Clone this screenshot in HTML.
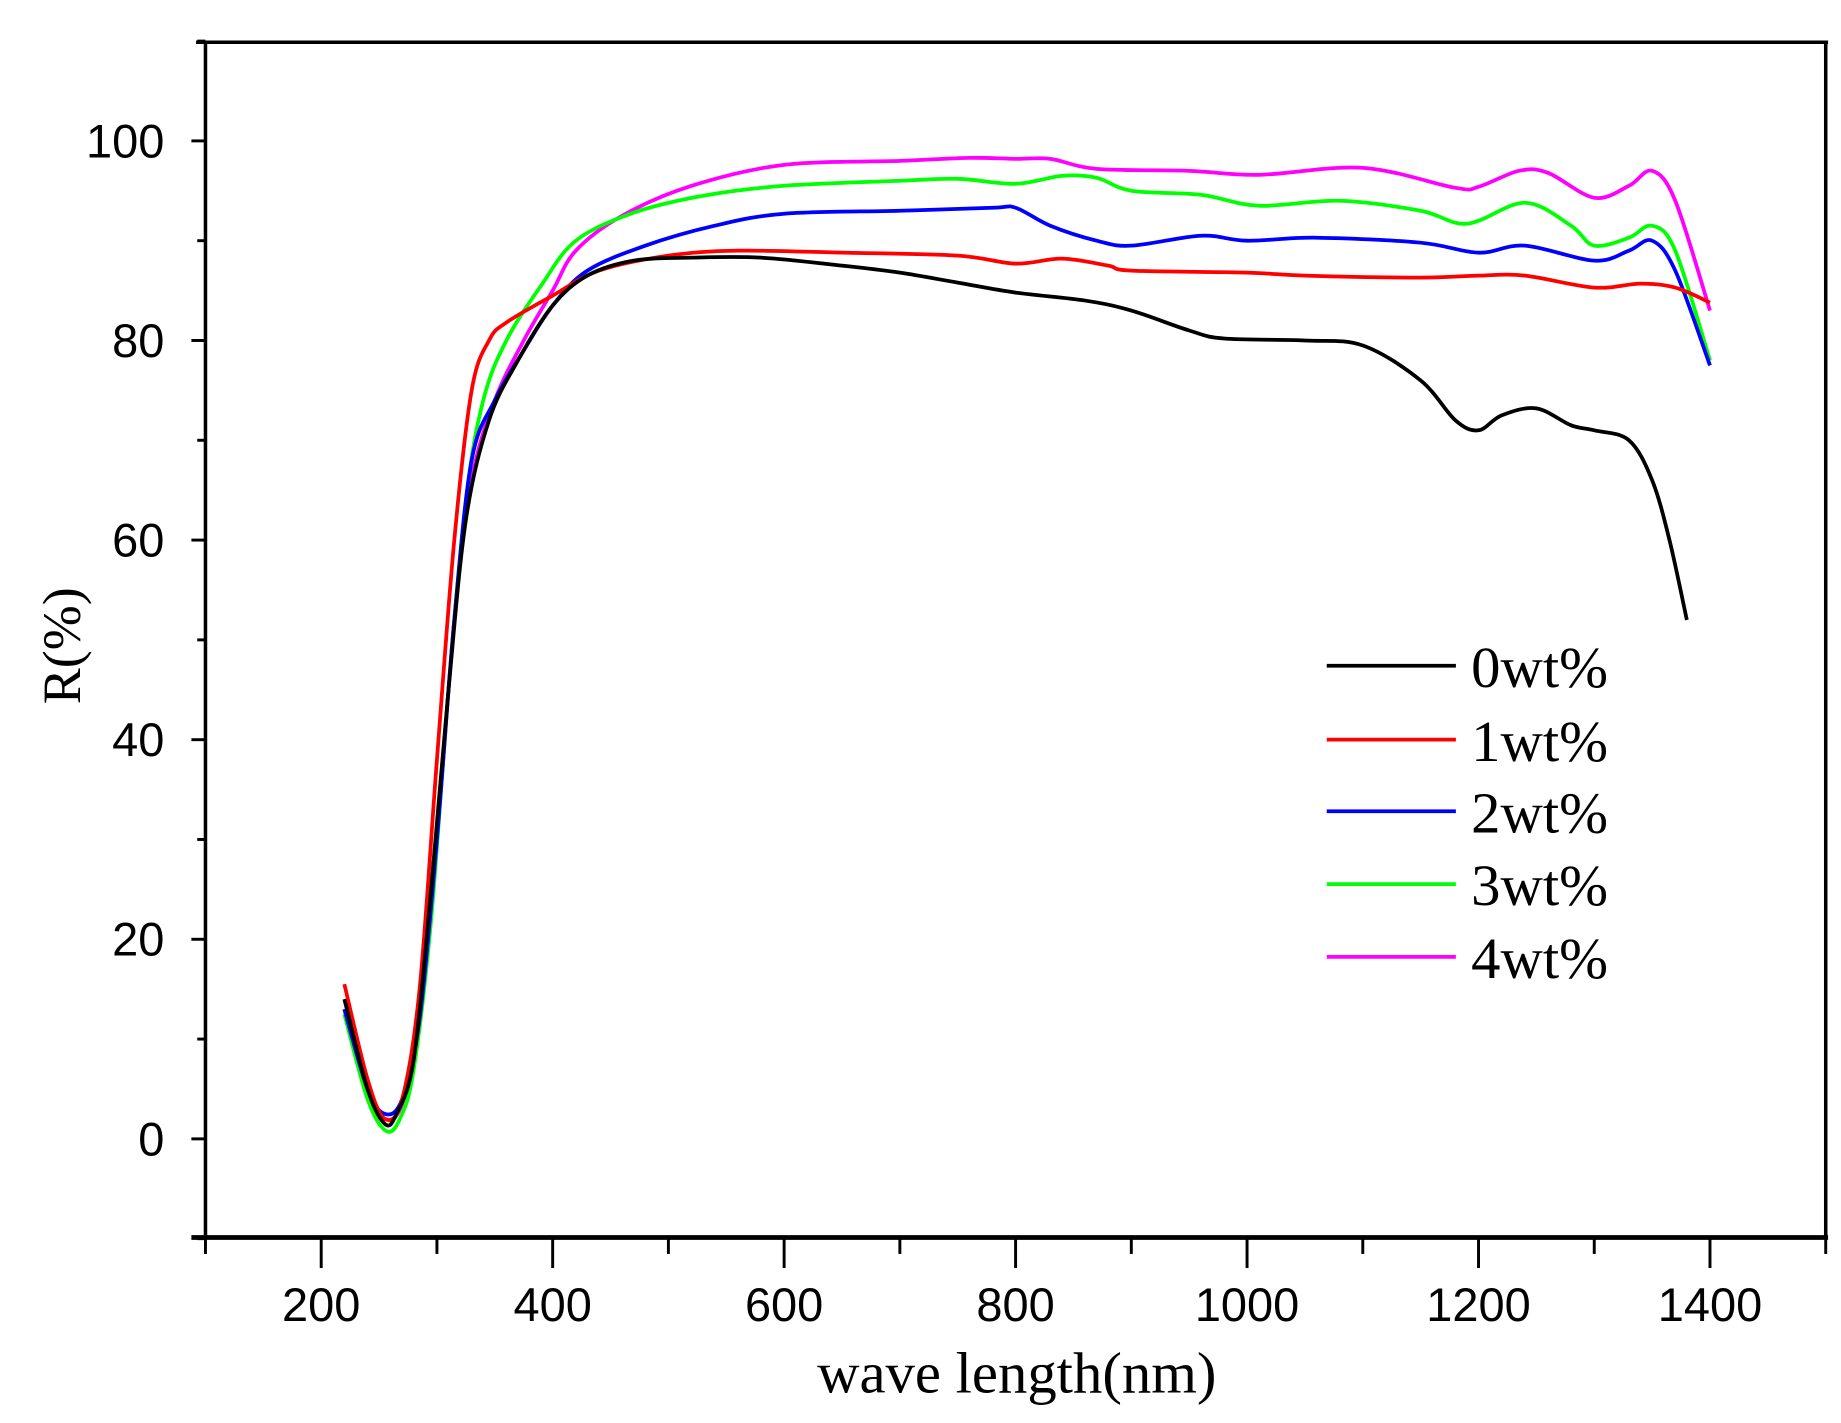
<!DOCTYPE html>
<html><head><style>html,body{margin:0;padding:0;background:#fff;}svg{display:block}</style></head>
<body>
<svg id="s" width="1841" height="1423" viewBox="0 0 1568 1212" preserveAspectRatio="none" xmlns="http://www.w3.org/2000/svg">
<rect width="1568" height="1212" fill="#fff"/>
<g stroke="#000" stroke-width="3" fill="none">
<line x1="167" y1="36" x2="1557" y2="36"/>
<line x1="175" y1="36" x2="175" y2="1055"/>
<line x1="1555" y1="36" x2="1555" y2="1055"/>
<line x1="163" y1="1054" x2="1557" y2="1054" stroke-width="4"/>
</g>
<g id="ticks" stroke="#000" stroke-width="2.5"></g>
<g font-family="Liberation Sans, sans-serif" font-size="40" fill="#000" text-anchor="end" id="ylab"></g>
<g font-family="Liberation Sans, sans-serif" font-size="40" fill="#000" text-anchor="middle" id="xlab"></g>
<text x="866" y="1186" font-family="Liberation Serif, serif" font-size="50" text-anchor="middle">wave length(nm)</text>
<text transform="translate(68,550) rotate(-90)" font-family="Liberation Serif, serif" font-size="46" text-anchor="middle">R(%)</text>
<g id="curves" fill="none" stroke-width="3.2"></g>
<g stroke-width="3.2">
<line x1="1130" y1="567" x2="1240" y2="567" stroke="#000"/>
<line x1="1130" y1="630" x2="1240" y2="630" stroke="#f00"/>
<line x1="1130" y1="691" x2="1240" y2="691" stroke="#00f"/>
<line x1="1130" y1="753" x2="1240" y2="753" stroke="#0f0"/>
<line x1="1130" y1="815" x2="1240" y2="815" stroke="#f0f"/>
</g>
<g font-family="Liberation Serif, serif" font-size="50" fill="#000">
<text x="1253" y="585">0wt%</text>
<text x="1253" y="648">1wt%</text>
<text x="1253" y="709">2wt%</text>
<text x="1253" y="771">3wt%</text>
<text x="1253" y="833">4wt%</text>
</g>
</svg>
<script>
const NS="http://www.w3.org/2000/svg";
const X=w=>175+(w-100)*0.9857, Y=r=>970-8.5*r;
function el(p,t,a){const e=document.createElementNS(NS,t);for(const k in a)e.setAttribute(k,a[k]);p.appendChild(e);return e;}
const tk=document.getElementById('ticks');
for(let w=100;w<=1500;w+=100){const maj=w%200==0;el(tk,'line',{x1:X(w),y1:1054,x2:X(w),y2:maj?1080:1068});}
for(let r=-10;r<=110;r+=10){const maj=r%20==0;el(tk,'line',{x1:maj?163:168,y1:Y(r),x2:175,y2:Y(r)});}
const yl=document.getElementById('ylab');
for(let r=0;r<=100;r+=20){el(yl,'text',{x:140,y:Y(r)+14}).textContent=r;}
const xl=document.getElementById('xlab');
for(let w=200;w<=1400;w+=200){el(xl,'text',{x:X(w),y:1125}).textContent=w;}
const D={
"#000":[[220,14],[240,5],[255,1.5],[265,2.5],[280,8],[295,25],[310,45],[325,62],[345,72],[370,78],[400,83.5],[430,86.5],[470,88],[520,88.3],[580,88.3],[650,87.5],[700,86.8],[750,85.8],[800,84.8],[860,84],[900,83],[950,81],[980,80.2],[1050,80],[1100,79.5],[1150,76],[1180,72],[1200,71],[1220,72.5],[1250,73.2],[1280,71.5],[1300,71],[1330,70],[1350,66],[1365,60],[1380,52]],
"#f00":[[220,15.5],[240,6],[255,2],[270,4],[285,15],[300,38],[315,60],[330,75],[345,80],[360,81.8],[400,84.5],[440,87],[500,88.5],[560,89],[650,88.8],[750,88.5],[800,87.7],[840,88.2],[880,87.5],[900,87],[1000,86.8],[1050,86.5],[1150,86.3],[1200,86.5],[1240,86.5],[1300,85.3],[1340,85.7],[1370,85.3],[1400,83.8]],
"#00f":[[220,13],[240,5],[255,2.5],[270,4],[285,12],[300,30],[315,52],[330,68],[350,74],[375,79],[400,83.5],[430,87],[480,89.5],[540,91.5],[600,92.7],[700,93],[780,93.3],[800,93.3],[830,91.5],[870,90],[900,89.5],[960,90.5],[1000,90],[1060,90.3],[1150,89.8],[1200,88.8],[1240,89.5],[1300,88],[1330,89],[1350,90],[1370,87],[1400,77.5]],
"#0f0":[[220,12.5],[240,4],[256,0.8],[268,2],[280,7],[295,22],[310,45],[325,64],[340,74],[360,80],[390,85.5],[420,90],[470,92.8],[530,94.5],[600,95.5],[700,96],[750,96.2],[800,95.7],[840,96.5],[870,96.3],[900,95],[960,94.6],[1010,93.5],[1080,94],[1150,93],[1190,91.7],[1240,93.8],[1280,91.5],[1300,89.5],[1330,90.3],[1350,91.5],[1370,89],[1400,78]],
"#f0f":[[220,13],[240,5],[255,2],[270,3.5],[285,12],[300,30],[315,52],[330,66],[350,74],[375,80],[400,85],[420,89],[460,92.5],[520,95.5],[600,97.6],[700,98],[760,98.3],[800,98.2],[830,98.2],[870,97.2],[950,97],[1010,96.6],[1100,97.3],[1180,95.3],[1200,95.4],[1235,97],[1260,96.8],[1300,94.3],[1330,95.5],[1350,97],[1370,94],[1400,83]]};
const cv=document.getElementById('curves');
for(const c of ["#f0f","#0f0","#00f","#f00","#000"]){
 const P=D[c].map(p=>[X(p[0]),Y(p[1])]);
 let d="M"+P[0][0]+","+P[0][1];
 for(let i=0;i<P.length-1;i++){
  const p0=P[Math.max(0,i-1)],p1=P[i],p2=P[i+1],p3=P[Math.min(P.length-1,i+2)];
  const c1=[p1[0]+(p2[0]-p0[0])/6,p1[1]+(p2[1]-p0[1])/6],c2=[p2[0]-(p3[0]-p1[0])/6,p2[1]-(p3[1]-p1[1])/6];
  d+=` C${c1[0]},${c1[1]} ${c2[0]},${c2[1]} ${p2[0]},${p2[1]}`;
 }
 el(cv,'path',{d:d,stroke:c});
}
</script>
</body></html>
